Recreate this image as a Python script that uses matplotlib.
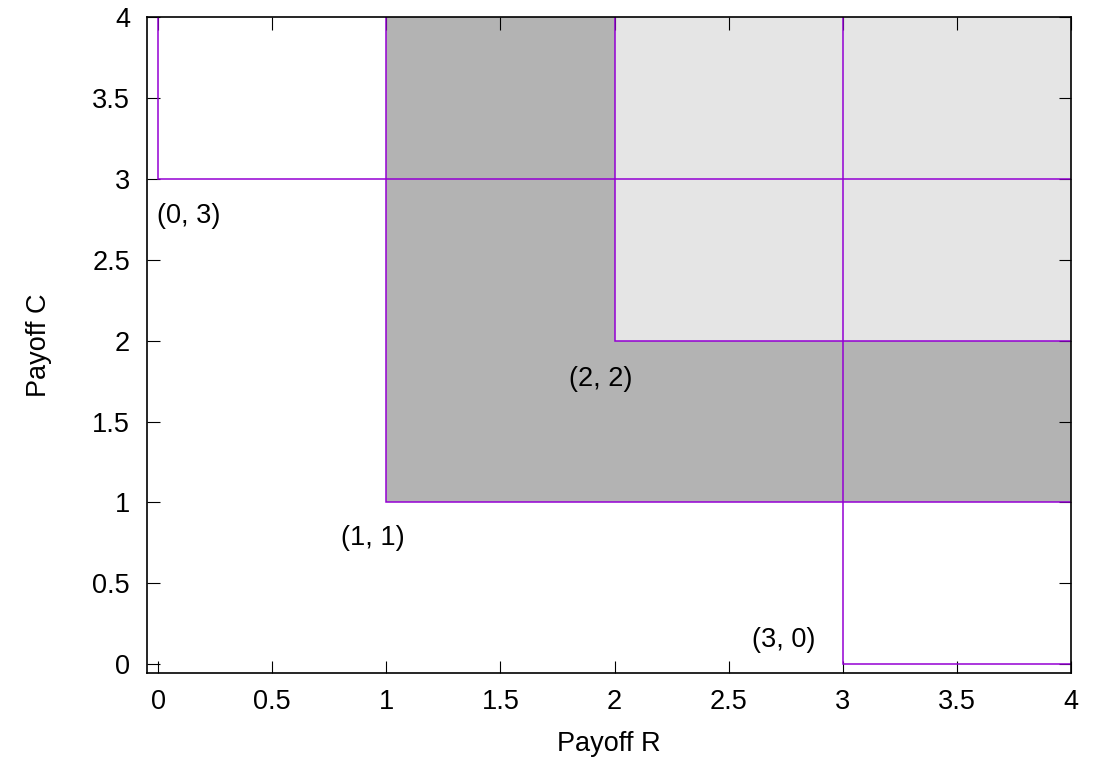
import matplotlib
matplotlib.use("Agg")
import matplotlib.pyplot as plt

plt.rcParams['font.family'] = ['Liberation Sans', 'DejaVu Sans']

# payoff points (R, C) and the quadrant each one dominates
pay_r = [0, 1, 2, 3]
pay_c = [3, 1, 2, 0]
labels = ["(0, 3)", "(1, 1)", "(2, 2)", "(3, 0)"]
fills = [None, "#b3b3b3", "#e5e5e5", None]
# label anchor positions
label_x = [0.132, 0.94, 1.94, 2.74]
label_y = [2.77, 0.78, 1.76, 0.15]

top = 4
line_color = "#9400d3"
fs = 19.5

fig = plt.figure(figsize=(10.97, 7.57), dpi=100)
ax = fig.add_axes([0.1337, 0.1114, 0.9763 - 0.1337, 0.9775 - 0.1114])

for r, c, fc in zip(pay_r, pay_c, fills):
    if fc is not None:
        ax.fill_between([r, top], c, top, color=fc, linewidth=0, zorder=1)

for r, c in zip(pay_r, pay_c):
    ax.plot([r, r, top], [top, c, c], color=line_color, linewidth=1.1,
            zorder=3, solid_joinstyle='miter')

for lx, ly, t in zip(label_x, label_y, labels):
    ax.text(lx, ly, t, ha='center', va='center', fontsize=fs, zorder=4)

ax.set_xlim(-0.05, 4)
ax.set_ylim(-0.052, 4)
ax.set_xticks([0, 0.5, 1, 1.5, 2, 2.5, 3, 3.5, 4])
ax.set_xticklabels(["0", "0.5", "1", "1.5", "2", "2.5", "3", "3.5", "4"])
ax.set_yticks([0, 0.5, 1, 1.5, 2, 2.5, 3, 3.5, 4])
ax.set_yticklabels(["0", "0.5", "1", "1.5", "2", "2.5", "3", "3.5", "4"])
ax.tick_params(direction='in', length=9, width=0.8, labelsize=fs,
               top=True, right=True, pad=12)
for s in ax.spines.values():
    s.set_linewidth(1.2)
    s.set_zorder(5)

ax.set_xlabel("Payoff R", fontsize=fs, labelpad=11)
ax.set_ylabel("Payoff C", fontsize=fs, labelpad=29)

plt.savefig("out.png", dpi=100)
